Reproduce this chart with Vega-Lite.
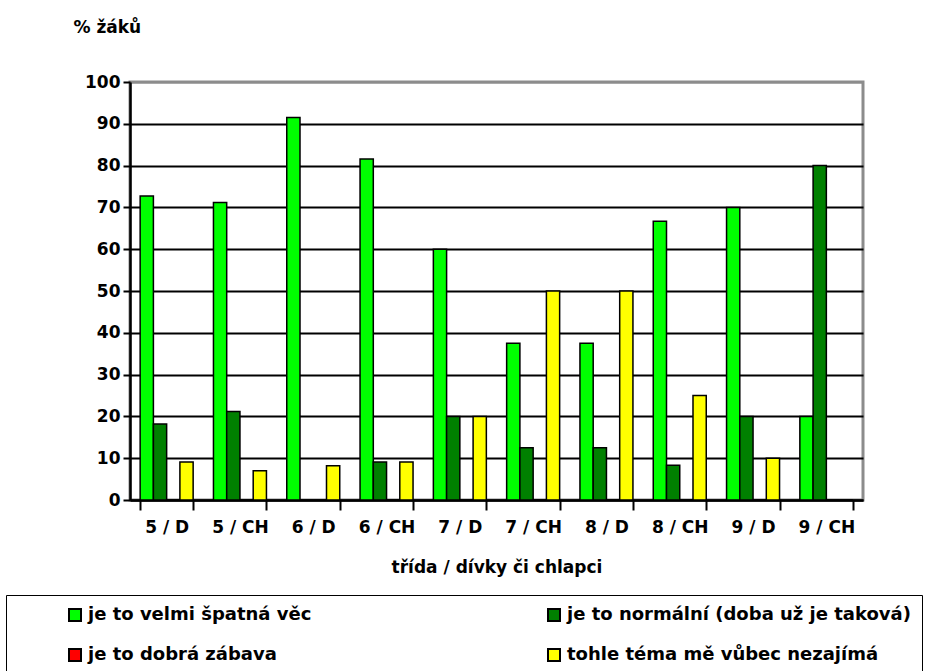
{
  "$schema": "https://vega.github.io/schema/vega-lite/v6.json",
  "width": 733,
  "height": 418,
  "autosize": {"type": "none"},
  "padding": {"left": 130, "top": 82, "right": 89, "bottom": 171},
  "background": "white",
  "data": {
    "values": [
      {"trida": "5 / D", "odpoved": "je to velmi špatná věc", "procent": 72.7},
      {"trida": "5 / D", "odpoved": "je to normální (doba už je taková)", "procent": 18.2},
      {"trida": "5 / D", "odpoved": "je to dobrá zábava", "procent": 0},
      {"trida": "5 / D", "odpoved": "tohle téma mě vůbec nezajímá", "procent": 9.1},
      {"trida": "5 / CH", "odpoved": "je to velmi špatná věc", "procent": 71.2},
      {"trida": "5 / CH", "odpoved": "je to normální (doba už je taková)", "procent": 21.2},
      {"trida": "5 / CH", "odpoved": "je to dobrá zábava", "procent": 0},
      {"trida": "5 / CH", "odpoved": "tohle téma mě vůbec nezajímá", "procent": 7},
      {"trida": "6 / D", "odpoved": "je to velmi špatná věc", "procent": 91.5},
      {"trida": "6 / D", "odpoved": "je to normální (doba už je taková)", "procent": 0},
      {"trida": "6 / D", "odpoved": "je to dobrá zábava", "procent": 0},
      {"trida": "6 / D", "odpoved": "tohle téma mě vůbec nezajímá", "procent": 8.2},
      {"trida": "6 / CH", "odpoved": "je to velmi špatná věc", "procent": 81.6},
      {"trida": "6 / CH", "odpoved": "je to normální (doba už je taková)", "procent": 9.1},
      {"trida": "6 / CH", "odpoved": "je to dobrá zábava", "procent": 0},
      {"trida": "6 / CH", "odpoved": "tohle téma mě vůbec nezajímá", "procent": 9.1},
      {"trida": "7 / D", "odpoved": "je to velmi špatná věc", "procent": 60},
      {"trida": "7 / D", "odpoved": "je to normální (doba už je taková)", "procent": 20},
      {"trida": "7 / D", "odpoved": "je to dobrá zábava", "procent": 0},
      {"trida": "7 / D", "odpoved": "tohle téma mě vůbec nezajímá", "procent": 20},
      {"trida": "7 / CH", "odpoved": "je to velmi špatná věc", "procent": 37.5},
      {"trida": "7 / CH", "odpoved": "je to normální (doba už je taková)", "procent": 12.5},
      {"trida": "7 / CH", "odpoved": "je to dobrá zábava", "procent": 0},
      {"trida": "7 / CH", "odpoved": "tohle téma mě vůbec nezajímá", "procent": 50},
      {"trida": "8 / D", "odpoved": "je to velmi špatná věc", "procent": 37.5},
      {"trida": "8 / D", "odpoved": "je to normální (doba už je taková)", "procent": 12.5},
      {"trida": "8 / D", "odpoved": "je to dobrá zábava", "procent": 0},
      {"trida": "8 / D", "odpoved": "tohle téma mě vůbec nezajímá", "procent": 50},
      {"trida": "8 / CH", "odpoved": "je to velmi špatná věc", "procent": 66.7},
      {"trida": "8 / CH", "odpoved": "je to normální (doba už je taková)", "procent": 8.3},
      {"trida": "8 / CH", "odpoved": "je to dobrá zábava", "procent": 0},
      {"trida": "8 / CH", "odpoved": "tohle téma mě vůbec nezajímá", "procent": 25},
      {"trida": "9 / D", "odpoved": "je to velmi špatná věc", "procent": 70},
      {"trida": "9 / D", "odpoved": "je to normální (doba už je taková)", "procent": 20},
      {"trida": "9 / D", "odpoved": "je to dobrá zábava", "procent": 0},
      {"trida": "9 / D", "odpoved": "tohle téma mě vůbec nezajímá", "procent": 10},
      {"trida": "9 / CH", "odpoved": "je to velmi špatná věc", "procent": 20},
      {"trida": "9 / CH", "odpoved": "je to normální (doba už je taková)", "procent": 80},
      {"trida": "9 / CH", "odpoved": "je to dobrá zábava", "procent": 0},
      {"trida": "9 / CH", "odpoved": "tohle téma mě vůbec nezajímá", "procent": 0}
    ]
  },
  "mark": {"type": "bar", "stroke": "black", "strokeWidth": 1.5},
  "encoding": {
    "x": {
      "field": "trida",
      "type": "nominal",
      "sort": ["5 / D", "5 / CH", "6 / D", "6 / CH", "7 / D", "7 / CH", "8 / D", "8 / CH", "9 / D", "9 / CH"],
      "scale": {"paddingInner": 0.277, "paddingOuter": 0.1385},
      "axis": {
        "title": "třída / dívky či chlapci",
        "labelAngle": 0,
        "tickBand": "extent",
        "tickSize": 10,
        "tickWidth": 2,
        "tickColor": "black",
        "domainColor": "black",
        "domainWidth": 2.5,
        "labelFont": "DejaVu Sans",
        "labelFontSize": 17,
        "labelFontWeight": "bold",
        "labelColor": "black",
        "labelPadding": 9,
        "titleFont": "DejaVu Sans",
        "titleFontSize": 17,
        "titleFontWeight": "bold",
        "titleColor": "black",
        "titleY": 72,
        "titleBaseline": "alphabetic"
      }
    },
    "xOffset": {
      "field": "odpoved",
      "type": "nominal",
      "sort": ["je to velmi špatná věc", "je to normální (doba už je taková)", "je to dobrá zábava", "tohle téma mě vůbec nezajímá"],
      "scale": {"paddingInner": 0, "paddingOuter": 0}
    },
    "y": {
      "field": "procent",
      "type": "quantitative",
      "scale": {"domain": [0, 100], "nice": false},
      "axis": {
        "values": [0, 10, 20, 30, 40, 50, 60, 70, 80, 90, 100],
        "title": "% žáků",
        "titleAngle": 0,
        "titleAlign": "left",
        "titleX": -57,
        "titleY": -50,
        "titleBaseline": "alphabetic",
        "titleFont": "DejaVu Sans",
        "titleFontSize": 17,
        "titleFontWeight": "bold",
        "titleColor": "black",
        "grid": true,
        "gridColor": {"condition": {"test": "datum.value === 100", "value": "#8c8c8c"}, "value": "black"},
        "gridWidth": 2.2,
        "gridOpacity": 1,
        "tickSize": 7,
        "tickWidth": 2,
        "tickColor": "black",
        "domainColor": "black",
        "domainWidth": 2.5,
        "labelFont": "DejaVu Sans",
        "labelFontSize": 17,
        "labelFontWeight": "bold",
        "labelColor": "black",
        "labelPadding": 3
      }
    },
    "color": {
      "field": "odpoved",
      "type": "nominal",
      "scale": {
        "domain": ["je to velmi špatná věc", "je to dobrá zábava", "je to normální (doba už je taková)", "tohle téma mě vůbec nezajímá"],
        "range": ["#00FF00", "#FF0000", "#008000", "#FFFF00"]
      },
      "legend": {
        "orient": "none",
        "legendX": -124,
        "legendY": 513,
        "columns": 2,
        "columnPadding": 232,
        "rowPadding": 20,
        "padding": 11,
        "strokeColor": "black",
        "fillColor": "white",
        "symbolType": "square",
        "symbolSize": 144,
        "symbolStrokeColor": "black",
        "symbolStrokeWidth": 2,
        "symbolOpacity": 1,
        "labelFont": "DejaVu Sans",
        "labelFontSize": 18,
        "labelFontWeight": "bold",
        "labelColor": "black",
        "labelOffset": 4,
        "labelLimit": 600,
        "labelExpr": "datum.label + '\u00a0\u00a0\u00a0\u00a0\u00a0\u00a0\u00a0\u00a0'",
        "title": " ",
        "titleOrient": "left",
        "titleFontSize": 10,
        "titlePadding": 49
      }
    }
  },
  "config": {"view": {"stroke": "#8c8c8c", "strokeWidth": 3}}
}
